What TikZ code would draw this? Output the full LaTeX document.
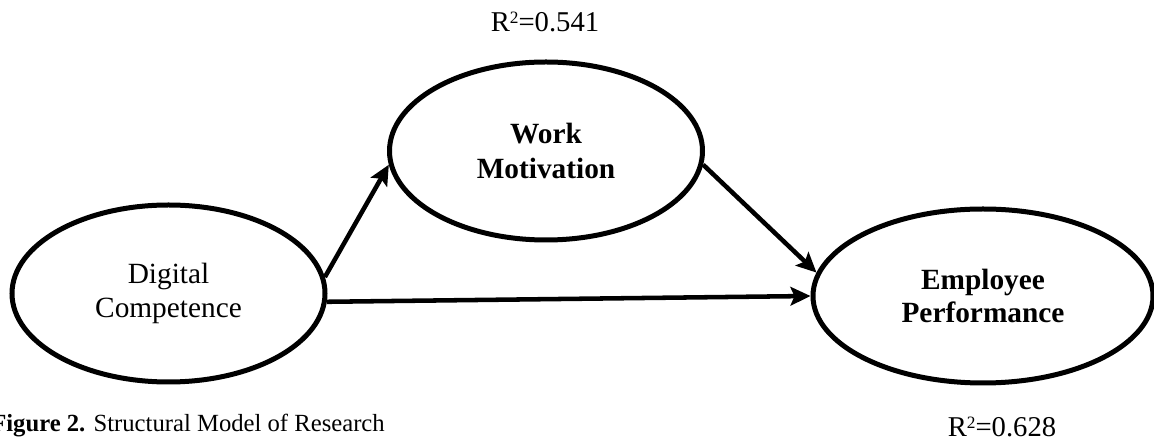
\documentclass[tikz,border=0pt]{standalone}
\usepackage{fontspec}
\setmainfont{Liberation Serif}
\usetikzlibrary{shapes.geometric,arrows.meta}
\tikzset{
  construct/.style={ellipse, draw=black, line width=3.75pt, inner sep=0pt, align=center},
  path arrow/.style={line width=3.4pt, -{Stealth[length=15pt,width=14pt,inset=3pt]}},
  label text/.style={inner sep=0pt, font=\fontsize{21.5}{25}\selectfont},
}
\newcommand{\rsq}{R\raisebox{0.28em}{\fontsize{13}{13}\selectfont 2}}
\begin{document}
\begin{tikzpicture}[x=0.75pt,y=-0.75pt]
\useasboundingbox (0,0) rectangle (1154,448);
\node[construct, minimum width=234.75pt, minimum height=132.75pt,
      font=\fontsize{22}{25}\selectfont] (dc) at (168.5,293.5) {Digital\\Competence};
\node[construct, minimum width=234.75pt, minimum height=133.5pt,
      font=\bfseries\fontsize{22}{26}\selectfont] (wm) at (546,151) {Work\\Motivation};
\node[construct, minimum width=255pt, minimum height=130.5pt,
      font=\bfseries\fontsize{22}{24.5}\selectfont] (ep) at (983,296) {Employee\\Performance};

\draw[path arrow] (dc.6) -- (wm.185);
\draw[path arrow] (wm.-5) -- (ep.172);
\draw[path arrow] (dc.-3.5) -- (ep.180);

\node[label text, anchor=base] (r1) at (545,32) {\rsq=0.541};
\node[label text, anchor=base] (r2) at (1002,437) {\rsq=0.628};
\node[inner sep=0pt, anchor=base east, font=\fontsize{18.5}{22}\selectfont] (cap) at (385,432)
  {\textbf{Figure 2.} Structural Model of Research};
\end{tikzpicture}
\end{document}
